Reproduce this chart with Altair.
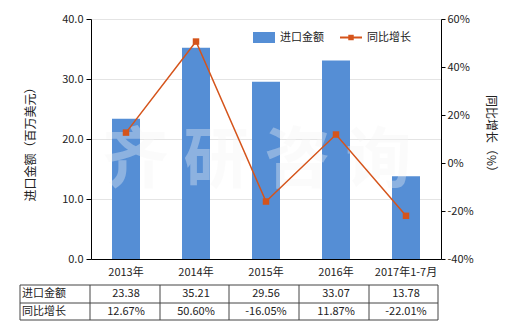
import altair as alt
import pandas as pd

categories = ["2013年", "2014年", "2015年", "2016年", "2017年1-7月"]
import_values = [23.38, 35.21, 29.56, 33.07, 13.78]
growth_rates = [12.67, 50.60, -16.05, 11.87, -22.01]
row_headers = ["进口金额", "同比增长"]

FONT = "Noto Sans CJK SC"
BAR = "#558ED5"
LINE = "#D5541B"
TXT = "#222222"

df = pd.DataFrame({
    "cat": categories,
    "val": import_values,
    "g": growth_rates,
    "val_txt": [f"{v:.2f}" for v in import_values],
    "g_txt": [f"{v:.2f}%" for v in growth_rates],
})

xenc = alt.X(
    "cat:N", sort=categories,
    scale=alt.Scale(paddingInner=0.6, paddingOuter=0.3),
    axis=alt.Axis(title=None, labelAngle=0, ticks=False, domainColor="black",
                  labelPadding=7, labelFontSize=11, labelColor=TXT, labelFont=FONT),
)

base = alt.Chart(df)

bars = base.mark_bar(color=BAR).encode(
    x=xenc,
    y=alt.Y("val:Q", scale=alt.Scale(domain=[0, 40], nice=False),
            axis=alt.Axis(values=[0, 10, 20, 30, 40], format=".1f",
                          title="进口金额（百万美元）", titleFont=FONT, titleFontSize=12,
                          titleFontWeight="normal", titleColor=TXT,
                          titleX=-61, titleY=122, titleAngle=-90,
                          titleAlign="center", titleBaseline="middle",
                          grid=True, gridColor="#e4e4e4", domainColor="black",
                          tickColor="black", tickSize=5, labelPadding=3,
                          labelFontSize=11, labelColor=TXT, labelFont=FONT)),
)

yg = alt.Y("g:Q", scale=alt.Scale(domain=[-40, 60], nice=False),
           axis=alt.Axis(orient="right", values=[-40, -20, 0, 20, 40, 60],
                         labelExpr="datum.value + '%'", grid=False,
                         title="同比增长（%）", titleFont=FONT, titleFontSize=12,
                         titleFontWeight="normal", titleColor=TXT,
                         titleX=49, titleY=117, titleAngle=90,
                         titleAlign="center", titleBaseline="middle",
                         domainColor="black", tickColor="black", tickSize=4,
                         labelPadding=2, labelFontSize=11, labelColor=TXT,
                         labelFont=FONT))

line = base.mark_line(color=LINE, strokeWidth=1.5).encode(x=xenc, y=yg)
pts = base.mark_square(color=LINE, size=42, opacity=1).encode(x=xenc, y=yg)
growth_layer = alt.layer(line, pts)

wm = alt.Chart(pd.DataFrame({"t": ["齐 研 咨 询"]})).mark_text(
    font=FONT, fontSize=66, fontWeight="bold", color="#f6f6f6", opacity=0.35,
    align="center", baseline="middle",
).encode(text="t:N", x=alt.value(166), y=alt.value(143))

# table
row1 = base.mark_text(font=FONT, fontSize=11, color=TXT, baseline="middle").encode(
    x=xenc, y=alt.value(275), text="val_txt:N")
row2 = base.mark_text(font=FONT, fontSize=11, color=TXT, baseline="middle").encode(
    x=xenc, y=alt.value(292.5), text="g_txt:N")
hdr_df = pd.DataFrame({"h": row_headers})
hdr1 = alt.Chart(hdr_df).transform_filter(alt.datum.h == row_headers[0]).mark_text(
    font=FONT, fontSize=11, color=TXT, align="left", baseline="middle",
).encode(text="h:N", x=alt.value(-69), y=alt.value(275))
hdr2 = alt.Chart(hdr_df).transform_filter(alt.datum.h == row_headers[1]).mark_text(
    font=FONT, fontSize=11, color=TXT, align="left", baseline="middle",
).encode(text="h:N", x=alt.value(-69), y=alt.value(292.5))

one = alt.Chart(pd.DataFrame({"a": [0]}))
rules = []
for yy in [266, 284, 301]:
    rules.append(one.mark_rule(color="#444", strokeWidth=1).encode(
        x=alt.value(-71), x2=alt.value(347), y=alt.value(yy)))
for xx in [-71, -1, 69, 138, 208, 278, 347]:
    rules.append(one.mark_rule(color="#444", strokeWidth=1).encode(
        x=alt.value(xx), y=alt.value(266), y2=alt.value(301)))

# legend
leg_rect = one.mark_rect(color=BAR).encode(
    x=alt.value(162), x2=alt.value(184), y=alt.value(13), y2=alt.value(24))
leg_t1 = one.mark_text(font=FONT, fontSize=11, color=TXT, align="left", baseline="middle",
                       text="进口金额").encode(x=alt.value(189), y=alt.value(18.5))
leg_line = one.mark_rule(color=LINE, strokeWidth=2).encode(
    x=alt.value(249), x2=alt.value(271), y=alt.value(18.5))
leg_pt = one.mark_square(color=LINE, size=30, opacity=1).encode(
    x=alt.value(260), y=alt.value(18.5))
leg_t2 = one.mark_text(font=FONT, fontSize=11, color=TXT, align="left", baseline="middle",
                       text="同比增长").encode(x=alt.value(276), y=alt.value(18.5))

chart = alt.layer(
    bars, wm, growth_layer, row1, row2, hdr1, hdr2, *rules,
    leg_rect, leg_t1, leg_line, leg_pt, leg_t2,
).resolve_scale(y="independent").properties(
    width=350, height=240,
    autosize=alt.AutoSizeParams(type="none"),
    padding={"left": 91, "top": 19, "right": 79, "bottom": 71},
).configure_view(stroke=None)

chart.save("out.html", embed_options={"renderer": "svg", "actions": False})
